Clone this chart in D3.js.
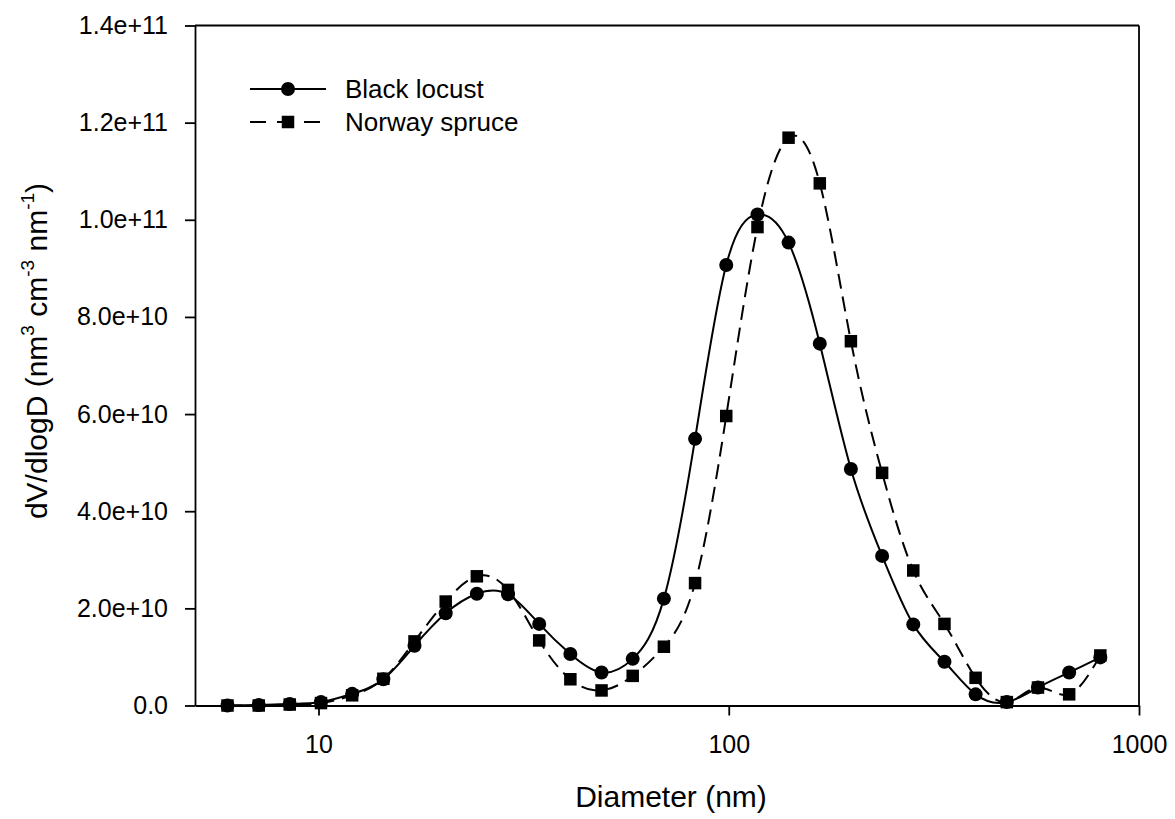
<!DOCTYPE html>
<html>
<head>
<meta charset="utf-8">
<script src="https://cdn.jsdelivr.net/npm/d3@7/dist/d3.min.js"></script>
<style>
  html, body { margin: 0; padding: 0; background: #fff; }
  svg { display: block; }
  text { font-family: Arial, "Liberation Sans", sans-serif; fill: #000; }
</style>
</head>
<body>
<svg id="chart" width="1175" height="819"></svg>
<script>
// ---- data (values in units of 1e10 nm^3 cm^-3 nm^-1) ----
const UNIT = 1e10;
const diameters = [6.0, 7.15, 8.51, 10.14, 12.08, 14.39, 17.14, 20.42, 24.32, 28.97,
  34.51, 41.11, 48.97, 58.33, 69.49, 82.77, 98.6, 117.5, 139.9, 166.7,
  198.5, 236.5, 281.7, 335.6, 399.7, 476.2, 567.2, 675.7, 804.9];
const blackLocust = [0.0, 0.01, 0.03, 0.07, 0.24, 0.54, 1.23, 1.90, 2.30, 2.29,
  1.68, 1.06, 0.68, 0.96, 2.20, 5.49, 9.07, 10.11, 9.53, 7.45,
  4.87, 3.08, 1.67, 0.90, 0.23, 0.07, 0.37, 0.68, 0.99];
const norwaySpruce = [0.0, 0.0, 0.02, 0.05, 0.21, 0.55, 1.32, 2.14, 2.66, 2.38,
  1.34, 0.54, 0.31, 0.61, 1.21, 2.52, 5.96, 9.85, 11.69, 10.75,
  7.50, 4.79, 2.78, 1.68, 0.57, 0.07, 0.37, 0.23, 1.03];
const seriesNames = ["Black locust", "Norway spruce"];
const xTicks = [10, 100, 1000];
const yTicks = [0, 2e10, 4e10, 6e10, 8e10, 10e10, 12e10, 14e10];
const xTitle = "Diameter (nm)";

// ---- layout ----
const svg = d3.select("#chart");
const L = 195, R = 1139, T = 25.5, B = 705.5;
const x = d3.scaleLog().domain([5, 1000]).range([L, R]);
const y = d3.scaleLinear().domain([0, 1.4e11]).range([B, T]);

svg.append("rect").attr("width", 1175).attr("height", 819).attr("fill", "#fff");

// axes
const yAxis = d3.axisLeft(y).tickValues(yTicks).tickSize(10).tickSizeOuter(0).tickPadding(17)
  .tickFormat(d => d === 0 ? "0.0" : d3.format(".1e")(d));
const gy = svg.append("g").attr("transform", `translate(${L},0)`).call(yAxis);
const xAxis = d3.axisBottom(x).tickValues(xTicks).tickSize(10).tickSizeOuter(0).tickPadding(20)
  .tickFormat(d3.format("d"));
const gx = svg.append("g").attr("transform", `translate(0,${B})`).call(xAxis);
[gx, gy].forEach(g => {
  g.selectAll("path, line").attr("stroke", "#000").attr("stroke-width", 1.8);
  g.selectAll("text").attr("font-size", 25).attr("fill", "#000")
    .style("font-family", "Arial, 'Liberation Sans', sans-serif");
});
// frame top & right
svg.append("line").attr("x1", L).attr("x2", R).attr("y1", T).attr("y2", T)
  .attr("stroke", "#000").attr("stroke-width", 1.8);
svg.append("line").attr("x1", R).attr("x2", R).attr("y1", T).attr("y2", B)
  .attr("stroke", "#000").attr("stroke-width", 1.8);

// titles
svg.append("text").attr("x", 671).attr("y", 807).attr("text-anchor", "middle")
  .attr("font-size", 30).text(xTitle);
const yt = svg.append("text").attr("transform", "translate(47,351) rotate(-90)")
  .attr("text-anchor", "middle").attr("font-size", 30);
yt.append("tspan").text("dV/dlogD (nm");
yt.append("tspan").attr("font-size", 19).attr("dy", -13).text("3");
yt.append("tspan").attr("dy", 13).text(" cm");
yt.append("tspan").attr("font-size", 19).attr("dy", -13).text("-3");
yt.append("tspan").attr("dy", 13).text(" nm");
yt.append("tspan").attr("font-size", 19).attr("dy", -13).text("-1");
yt.append("tspan").attr("dy", 13).text(")");

// series
const series = [
  { name: seriesNames[1], vals: norwaySpruce, dash: "15,8", marker: "square" },
  { name: seriesNames[0], vals: blackLocust, dash: null, marker: "circle" }
];
const line = d3.line().x(d => x(d[0])).y(d => y(d[1] * UNIT)).curve(d3.curveNatural);

function drawMarker(g, type, cx, cy) {
  if (type === "circle") {
    g.append("circle").attr("cx", cx).attr("cy", cy).attr("r", 7).attr("fill", "#000");
  } else {
    const s = 12.5;
    g.append("rect").attr("x", cx - s / 2).attr("y", cy - s / 2).attr("width", s).attr("height", s).attr("fill", "#000");
  }
}

series.forEach(s => {
  const pts = diameters.map((d, i) => [d, s.vals[i]]);
  svg.append("path").attr("d", line(pts)).attr("fill", "none").attr("stroke", "#000")
    .attr("stroke-width", 2).attr("stroke-dasharray", s.dash);
});
series.forEach(s => {
  const g = svg.append("g");
  diameters.forEach((d, i) => drawMarker(g, s.marker, x(d), y(s.vals[i] * UNIT)));
});

// legend
const legend = [
  { name: seriesNames[0], dash: null, marker: "circle", y: 89 },
  { name: seriesNames[1], dash: "16,11", marker: "square", y: 122 }
];
legend.forEach(l => {
  const g = svg.append("g");
  g.append("line").attr("x1", 250).attr("x2", 326).attr("y1", l.y).attr("y2", l.y)
    .attr("stroke", "#000").attr("stroke-width", 2).attr("stroke-dasharray", l.dash);
  drawMarker(g, l.marker, 288, l.y);
  g.append("text").attr("x", 345).attr("y", l.y + 8.5).attr("font-size", 26).text(l.name);
});
</script>
</body>
</html>
